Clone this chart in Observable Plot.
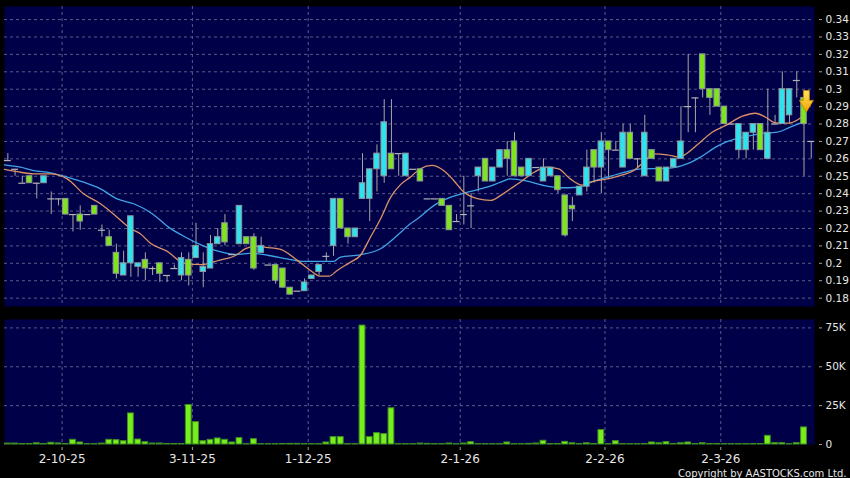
<!DOCTYPE html>
<html><head><meta charset="utf-8">
<script src="https://cdn.jsdelivr.net/npm/d3@7"></script>
<script src="https://cdn.jsdelivr.net/npm/@observablehq/plot@0.6"></script>
<style>
html,body{margin:0;padding:0;background:#000;}
#chart{width:850px;height:478px;background:#000;overflow:hidden;}
#chart svg{display:block;}
</style></head><body><div id="chart"></div>
<script>
// ---- Daily candles (index 0 = first session shown) ----
const open = [0.259,0.254,0.246,0.25,0.246,0.246,0.237,0.237,0.237,0.228,0.228,0.228,0.233,0.219,0.215,0.206,0.193,0.20,0.198,0.202,
0.197,0.20,0.193,0.197,0.193,0.202,0.203,0.195,0.197,0.211,0.223,0.205,0.211,0.215,0.215,0.206,0.199,0.199,0.197,0.186,
0.184,0.184,0.191,0.195,0.204,0.21,0.237,0.22,0.215,0.237,0.237,0.254,0.25,0.263,0.263,0.25,0.254,0.254,0.237,0.237,
0.237,0.233,0.224,0.228,0.233,0.25,0.26,0.247,0.255,0.265,0.27,0.255,0.25,0.255,0.247,0.25,0.25,0.239,0.233,0.239,
0.244,0.265,0.255,0.27,0.265,0.255,0.275,0.26,0.25,0.265,0.255,0.247,0.255,0.26,0.29,0.295,0.32,0.30,0.30,0.29,
0.28,0.265,0.265,0.275,0.28,0.26,0.28,0.28,0.285,0.305,0.295,0.27];
const close = [0.259,0.254,0.246,0.246,0.246,0.25,0.237,0.237,0.228,0.228,0.224,0.228,0.228,0.219,0.21,0.194,0.20,0.227,0.20,0.197,
0.197,0.194,0.193,0.197,0.203,0.193,0.21,0.198,0.211,0.215,0.212,0.205,0.233,0.211,0.197,0.21,0.199,0.19,0.186,0.182,
0.184,0.189,0.193,0.199,0.204,0.237,0.22,0.215,0.22,0.246,0.254,0.263,0.281,0.254,0.263,0.263,0.254,0.247,0.237,0.237,
0.233,0.219,0.224,0.228,0.233,0.255,0.247,0.255,0.265,0.26,0.25,0.25,0.26,0.255,0.255,0.255,0.242,0.216,0.231,0.244,
0.255,0.255,0.27,0.265,0.265,0.275,0.26,0.26,0.275,0.26,0.247,0.255,0.26,0.27,0.29,0.295,0.30,0.295,0.29,0.28,
0.28,0.28,0.275,0.28,0.265,0.275,0.28,0.30,0.30,0.305,0.28,0.27];
const high = [0.263,0.254,0.25,0.25,0.246,0.25,0.241,0.237,0.237,0.228,0.233,0.228,0.233,0.222,0.219,0.211,0.207,0.227,0.20,0.206,
0.198,0.20,0.193,0.199,0.206,0.206,0.223,0.206,0.216,0.22,0.228,0.205,0.233,0.215,0.217,0.215,0.199,0.199,0.197,0.186,
0.184,0.191,0.193,0.199,0.206,0.237,0.237,0.22,0.22,0.263,0.254,0.268,0.294,0.294,0.263,0.263,0.254,0.254,0.237,0.237,
0.237,0.233,0.228,0.25,0.24,0.255,0.26,0.255,0.265,0.27,0.275,0.255,0.26,0.255,0.26,0.255,0.25,0.239,0.238,0.244,
0.265,0.265,0.275,0.27,0.27,0.28,0.28,0.26,0.285,0.265,0.255,0.255,0.26,0.29,0.32,0.295,0.32,0.30,0.30,0.29,
0.28,0.28,0.275,0.28,0.28,0.30,0.285,0.31,0.30,0.31,0.295,0.27];
const low = [0.259,0.25,0.246,0.246,0.237,0.246,0.228,0.233,0.228,0.218,0.219,0.228,0.228,0.215,0.21,0.191,0.193,0.192,0.192,0.19,
0.193,0.189,0.189,0.197,0.19,0.187,0.203,0.186,0.197,0.211,0.21,0.205,0.211,0.211,0.196,0.206,0.199,0.188,0.186,0.182,
0.184,0.184,0.191,0.193,0.201,0.204,0.22,0.211,0.215,0.237,0.224,0.241,0.246,0.254,0.25,0.25,0.254,0.247,0.237,0.237,
0.233,0.219,0.224,0.222,0.22,0.241,0.247,0.247,0.255,0.25,0.25,0.25,0.25,0.255,0.247,0.25,0.24,0.215,0.224,0.239,
0.241,0.246,0.24,0.248,0.265,0.255,0.26,0.255,0.25,0.26,0.247,0.247,0.255,0.26,0.275,0.275,0.295,0.285,0.29,0.28,
0.28,0.26,0.26,0.265,0.265,0.26,0.28,0.28,0.28,0.295,0.25,0.26];
const volume = [600,600,300,300,800,300,1100,700,300,3000,1300,200,200,600,3000,2800,2150,20000,3200,1500,
650,650,300,300,300,25400,14400,2150,3000,3900,3000,1300,4100,200,3450,200,200,200,300,400,
400,200,200,200,1300,4750,4750,200,200,76500,4750,7300,6700,23300,200,200,200,600,400,200,
200,650,200,650,1500,200,200,200,200,1300,200,200,400,650,2400,300,300,1700,800,300,
800,300,9300,200,2150,200,200,200,300,1300,800,1500,300,800,1300,300,800,300,300,200,
200,200,200,300,300,5600,860,860,200,860,11000,0];

// ---- Moving averages: [session index, value] ----
const maFast = [[-0.46,0.2539],[1.75,0.2523],[3.55,0.2514],[5.9,0.2514],[8.2,0.2485],[10.46,0.240],[12.8,0.2342],[15.1,0.2265],[16.95,0.220],[18.3,0.217],
[19.7,0.2115],[22.2,0.2064],[23.6,0.2017],[24.55,0.1998],[26.85,0.1993],[29.15,0.2017],[31.45,0.2045],[32.85,0.2084],[34.2,0.2097],[36.05,0.209],
[37.7,0.208],[40,0.2017],[41.8,0.1959],[43.2,0.1926],[44.35,0.1926],[45.5,0.1959],[47.35,0.2007],[48.7,0.2045],[50.1,0.215],[51.5,0.2256],
[52.9,0.238],[54.25,0.2452],[55.6,0.2495],[57,0.2543],[58.6,0.2562],[60.2,0.2533],[61.6,0.2476],[63,0.2409],[64.85,0.2371],[66.7,0.2361],
[68.1,0.239],[69.45,0.2428],[70.8,0.2466],[72.7,0.2523],[74.5,0.2552],[76.1,0.2543],[77.7,0.2485],[79.35,0.2449],[80.9,0.247],[82.8,0.2485],
[84.6,0.2504],[86.5,0.2533],[87.85,0.2581],[89.2,0.2629],[91.1,0.2623],[92.9,0.261],[93.6,0.2625],[95.5,0.269],[97.3,0.2753],[99.2,0.2792],
[101.5,0.2845],[103.3,0.2862],[104.7,0.2839],[106.1,0.2807],[107.9,0.2805],[109.2,0.2826],[110,0.285]];
const maSlow = [[-0.46,0.2566],[1.75,0.2552],[3.55,0.2533],[5.9,0.252],[8.2,0.2495],[10.46,0.2466],[12.8,0.2428],[15.1,0.237],[17.4,0.2342],[19.95,0.2285],
[22.2,0.2208],[24.55,0.215],[26.85,0.2103],[29.15,0.2068],[31.45,0.2051],[33.75,0.2058],[36.05,0.2045],[38.6,0.2026],[40.9,0.2011],[43.2,0.2011],
[45,0.2011],[45.95,0.2036],[48.7,0.2049],[51.5,0.2084],[53.8,0.216],[55.6,0.2227],[56.6,0.2256],[58.9,0.2333],[61.2,0.238],[63.5,0.2409],
[66.2,0.2437],[68.1,0.2466],[69.45,0.2485],[71.75,0.2472],[74.05,0.2447],[76.35,0.2434],[78.7,0.2437],[80.5,0.2466],[82.8,0.2495],[85.6,0.2527],
[87.4,0.2543],[91.1,0.2545],[93.9,0.2572],[95.7,0.261],[97.8,0.2667],[99.2,0.2696],[101.5,0.2724],[103.8,0.2744],[106.3,0.2753],[108.1,0.2782],[110,0.2814]];

// ---- Axes ----
const priceTicks = [0.18,0.19,0.20,0.21,0.22,0.23,0.24,0.25,0.26,0.27,0.28,0.29,0.30,0.31,0.32,0.33,0.34];
const volumeTicks = [0, 25000, 50000, 75000];
const volumeTickLabels = ["0", "25K", "50K", "75K"];
const monthTickIdx = [7.5, 25.5, 41.5, 62.5, 82.5, 98.5];
const monthLabels = ["2-10-25", "3-11-25", "1-12-25", "2-1-26", "2-2-26", "2-3-26"];
const signal = [{i: 110.4, top: 0.299, tip: 0.2866}];
const copyright = "Copyright by AASTOCKS.com Ltd.";

// ---- Build ----
const candles = open.map((o, i) => ({i, open: o, close: close[i], high: high[i], low: low[i], volume: volume[i]}));
const ups = candles.filter(d => d.close > d.open);
const downs = candles.filter(d => d.close < d.open);
const dojis = candles.filter(d => d.close === d.open);

const BG = "#000048", GRID = "#5a5a88", TXT = "#e6e6e6", TICK = "#a0a0a0";
const UP = "#30e2ee", DOWN = "#7de41d", BODY_STROKE = "#8f969c";
const font = "DejaVu Sans, Verdana, sans-serif";
const xDomain = [-0.46, 111.45];
const dash = {stroke: GRID, strokeDasharray: "3,3", strokeWidth: 1};

function signalArrow(index, scales) {
  const g = d3.create("svg:g");
  const defs = g.append("defs");
  const grad = defs.append("linearGradient").attr("id", "sigGrad").attr("x1", 0).attr("y1", 0).attr("x2", 0).attr("y2", 1);
  grad.append("stop").attr("offset", "0%").attr("stop-color", "#ffe45a");
  grad.append("stop").attr("offset", "100%").attr("stop-color", "#f3a300");
  for (const s of signal) {
    const cx = scales.x(s.i), y0 = scales.y(s.top), y1 = scales.y(s.tip);
    const hb = y0 + (y1 - y0) * 0.46;
    const sw = 3, hw = 7;
    g.append("path")
      .attr("d", `M${cx - sw},${y0}L${cx + sw},${y0}L${cx + sw},${hb}L${cx + hw},${hb}L${cx},${y1}L${cx - hw},${hb}L${cx - sw},${hb}Z`)
      .attr("fill", "url(#sigGrad)").attr("stroke", "#c88400").attr("stroke-width", 0.8);
  }
  return g.node();
}

const main = Plot.plot({
  width: 850, height: 312,
  marginTop: 6, marginBottom: 6, marginLeft: 4, marginRight: 36,
  style: {background: "#000", fontFamily: font, fontSize: "10.5px", color: TXT},
  x: {domain: xDomain, axis: null},
  y: {domain: [0.1752, 0.3475], axis: null},
  marks: [
    Plot.frame({fill: BG, stroke: "none"}),
    Plot.ruleY(priceTicks, dash),
    Plot.ruleX(monthTickIdx, dash),
    Plot.axisY(priceTicks, {anchor: "right", label: null, tickSize: 3, tickPadding: 4, dx: 4, stroke: TICK, fill: TXT,
      fontSize: 10.5, tickFormat: d => String(+d.toFixed(2))}),
    Plot.ruleX(candles, {x: "i", y1: "low", y2: "high", stroke: "#a6a6a6", strokeWidth: 1}),
    Plot.line(maSlow, {x: d => d[0], y: d => d[1], stroke: "#3fa4e6", strokeWidth: 1.3, curve: "monotone-x"}),
    Plot.line(maFast, {x: d => d[0], y: d => d[1], stroke: "#dc9268", strokeWidth: 1.3, curve: "monotone-x"}),
    Plot.rect(ups, {x1: d => d.i - 0.38, x2: d => d.i + 0.38, y1: "open", y2: "close", fill: UP, stroke: BODY_STROKE, strokeWidth: 1}),
    Plot.rect(downs, {x1: d => d.i - 0.38, x2: d => d.i + 0.38, y1: "open", y2: "close", fill: DOWN, stroke: BODY_STROKE, strokeWidth: 1}),
    Plot.ruleY(dojis, {y: "close", x1: d => d.i - 0.48, x2: d => d.i + 0.48, stroke: "#b4b4b4", strokeWidth: 1.2}),
    signalArrow
  ]
});

const vol = Plot.plot({
  width: 850, height: 166,
  marginTop: 7, marginBottom: 34, marginLeft: 4, marginRight: 36,
  style: {background: "#000", fontFamily: font, fontSize: "10.5px", color: TXT},
  x: {domain: xDomain, axis: null},
  y: {domain: [0, 80400], axis: null},
  marks: [
    Plot.frame({fill: BG, stroke: "none"}),
    Plot.ruleY(volumeTicks.filter(v => v > 0), dash),
    Plot.ruleX(monthTickIdx, dash),
    Plot.rect(candles, {x1: d => d.i - 0.4, x2: d => d.i + 0.4, y1: 0, y2: "volume", fill: "#78ee1c", stroke: "#3f8f1e", strokeWidth: 1}),
    Plot.axisY(volumeTicks, {anchor: "right", label: null, tickSize: 3, tickPadding: 4, dx: 4, stroke: TICK, fill: TXT,
      fontSize: 10.5, tickFormat: d => volumeTickLabels[volumeTicks.indexOf(d)]}),
    Plot.axisX(monthTickIdx, {anchor: "bottom", label: null, tickSize: 3, tickPadding: 4, dy: 3, stroke: TICK, fill: TXT,
      fontSize: 12, tickFormat: d => monthLabels[monthTickIdx.indexOf(d)]}),
    Plot.text([copyright], {text: d => d, frameAnchor: "bottom-right", dx: 32, dy: 32, textAnchor: "end",
      lineAnchor: "bottom", fill: TXT, fontSize: 10})
  ]
});

document.getElementById("chart").append(main, vol);
</script>
</body></html>
